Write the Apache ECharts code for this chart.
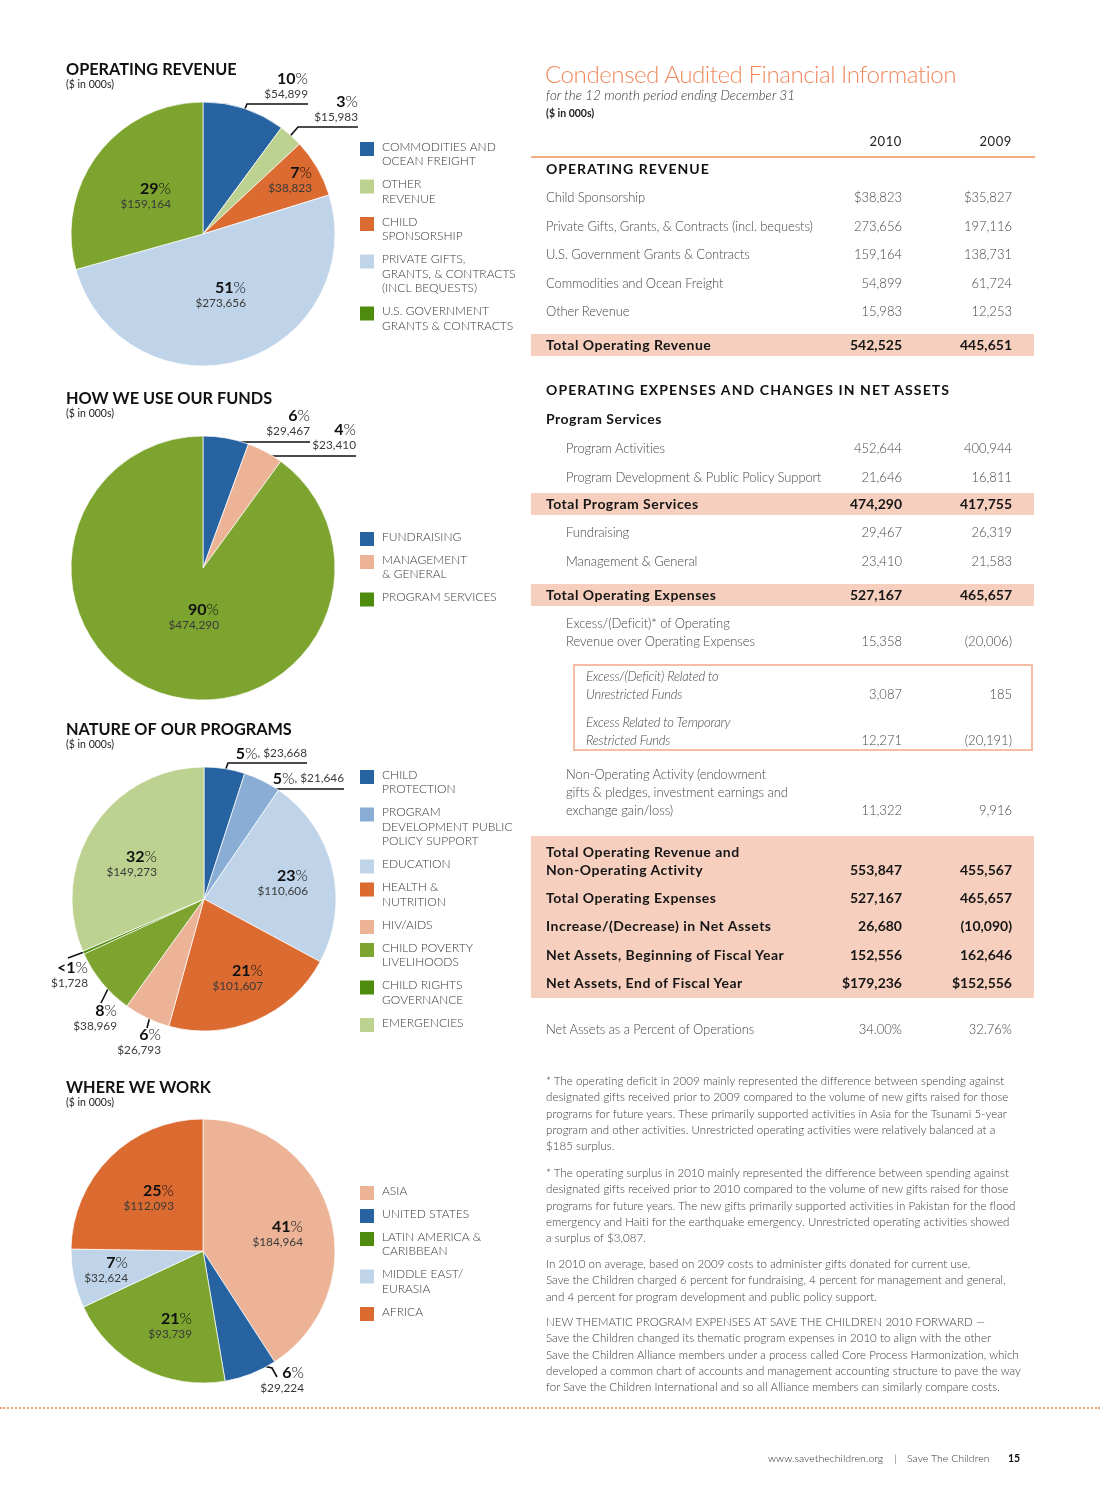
<!DOCTYPE html>
<html>
<head>
<meta charset="utf-8">
<script src="https://cdn.jsdelivr.net/npm/echarts@6/dist/echarts.min.js"></script>
<style>
  html,body{margin:0;padding:0;background:#fff;}
  body{width:1100px;height:1504px;position:relative;overflow:hidden;font-family:Lato,"Open Sans",sans-serif;}
  #chart{position:absolute;left:0;top:0;width:1100px;height:1504px;}
  #fin{position:absolute;left:0;top:0;width:1100px;height:1504px;pointer-events:none;}
  #fin div{position:absolute;white-space:nowrap;}
  .lt{font-weight:300;font-size:13px;color:#474747;letter-spacing:-0.1px;}
  .bd{font-weight:700;font-size:14px;color:#161616;letter-spacing:0.5px;}
  .hd{font-weight:700;font-size:14px;color:#111;letter-spacing:1px;}
  .it{font-style:italic;font-weight:300;font-size:13px;color:#474747;letter-spacing:-0.2px;}
  .fn{font-weight:300;font-size:11.5px;color:#3a3a3a;letter-spacing:0.05px;}
</style>
</head>
<body>
<div id="chart"></div>
<div id="fin"></div>
<script>
// ---------------- DATA ----------------
const revenueCategories = ['COMMODITIES AND\nOCEAN FREIGHT', 'OTHER\nREVENUE', 'CHILD\nSPONSORSHIP', 'PRIVATE GIFTS,\nGRANTS, & CONTRACTS\n(INCL BEQUESTS)', 'U.S. GOVERNMENT\nGRANTS & CONTRACTS'];
const revenueValues = [54899, 15983, 38823, 273656, 159164];

const fundsCategories = ['FUNDRAISING', 'MANAGEMENT\n& GENERAL', 'PROGRAM SERVICES'];
const fundsValues = [29467, 23410, 474290];

const programCategories = ['CHILD\nPROTECTION', 'PROGRAM\nDEVELOPMENT PUBLIC\nPOLICY SUPPORT', 'EDUCATION', 'HEALTH &\nNUTRITION', 'HIV/AIDS', 'CHILD POVERTY\nLIVELIHOODS', 'CHILD RIGHTS\nGOVERNANCE', 'EMERGENCIES'];
const programValues = [23668, 21646, 110606, 101607, 26793, 38969, 1728, 149273];

const regionCategories = ['ASIA', 'UNITED STATES', 'LATIN AMERICA &\nCARIBBEAN', 'MIDDLE EAST/\nEURASIA', 'AFRICA'];
const regionValues = [184964, 29224, 93739, 32624, 112093];

const pieTitles = ['OPERATING REVENUE', 'HOW WE USE OUR FUNDS', 'NATURE OF OUR PROGRAMS', 'WHERE WE WORK'];
const unitLabel = '($ in 000s)';

const yearLabels = ['2010', '2009'];
const revenueRows = [
  ['Child Sponsorship', '$38,823', '$35,827'],
  ['Private Gifts, Grants, & Contracts (incl. bequests)', '273,656', '197,116'],
  ['U.S. Government Grants & Contracts', '159,164', '138,731'],
  ['Commodities and Ocean Freight', '54,899', '61,724'],
  ['Other Revenue', '15,983', '12,253']
];
const totalRevenueRow = ['Total Operating Revenue', '542,525', '445,651'];
const programRows = [
  ['Program Activities', '452,644', '400,944'],
  ['Program Development & Public Policy Support', '21,646', '16,811']
];
const totalProgramRow = ['Total Program Services', '474,290', '417,755'];
const supportRows = [
  ['Fundraising', '29,467', '26,319'],
  ['Management & General', '23,410', '21,583']
];
const totalExpensesRow = ['Total Operating Expenses', '527,167', '465,657'];
const excessRow = ['Excess/(Deficit)* of Operating\nRevenue over Operating Expenses', '15,358', '(20,006)'];
const restrictionRows = [
  ['Excess/(Deficit) Related to\nUnrestricted Funds', '3,087', '185'],
  ['Excess Related to Temporary\nRestricted Funds', '12,271', '(20,191)']
];
const nonOperatingRow = ['Non-Operating Activity (endowment\ngifts & pledges, investment earnings and\nexchange gain/loss)', '11,322', '9,916'];
const summaryRows = [
  ['Total Operating Revenue and\nNon-Operating Activity', '553,847', '455,567'],
  ['Total Operating Expenses', '527,167', '465,657'],
  ['Increase/(Decrease) in Net Assets', '26,680', '(10,090)'],
  ['Net Assets, Beginning of Fiscal Year', '152,556', '162,646'],
  ['Net Assets, End of Fiscal Year', '$179,236', '$152,556']
];
const ratioRow = ['Net Assets as a Percent of Operations', '34.00%', '32.76%'];

const footnotes = [
  ['* The operating deficit in 2009 mainly represented the difference between spending against',
   'designated gifts received prior to 2009 compared to the volume of new gifts raised for those',
   'programs for future years. These primarily supported activities in Asia for the Tsunami 5-year',
   'program and other activities. Unrestricted operating activities were relatively balanced at a',
   '$185 surplus.'],
  ['* The operating surplus in 2010 mainly represented the difference between spending against',
   'designated gifts received prior to 2010 compared to the volume of new gifts raised for those',
   'programs for future years. The new gifts primarily supported activities in Pakistan for the flood',
   'emergency and Haiti for the earthquake emergency. Unrestricted operating activities showed',
   'a surplus of $3,087.'],
  ['In 2010 on average, based on 2009 costs to administer gifts donated for current use,',
   'Save the Children charged 6 percent for fundraising, 4 percent for management and general,',
   'and 4 percent for program development and public policy support.'],
  ['NEW THEMATIC PROGRAM EXPENSES AT SAVE THE CHILDREN 2010 FORWARD \u2014',
   'Save the Children changed its thematic program expenses in 2010 to align with the other',
   'Save the Children Alliance members under a process called Core Process Harmonization, which',
   'developed a common chart of accounts and management accounting structure to pave the way',
   'for Save the Children International and so all Alliance members can similarly compare costs.']
];

// ---------------- STYLE ----------------
const FONT = 'Lato, "Open Sans", sans-serif';
const C = {
  blue: '#2763a1', lgreen: '#bdd290', orange: '#dc6b31', lblue: '#bfd4e9',
  green: '#7ca42f', peach: '#ecb396', mblue: '#89add4', dgreen: '#4f8b0c'
};
const R = 132;

const pies = [
  {
    title: pieTitles[0], titleY: 62, cats: revenueCategories, vals: revenueValues, center: [203, 234],
    colors: [C.blue, C.lgreen, C.orange, C.lblue, C.green],
    legendColors: [C.blue, C.lgreen, C.orange, C.lblue, C.dgreen], legendY: 147,
    labels: [
      {type: 'out', f: 0.93, x: 105, y: -132, va: 'bottom', pts: [[44, -130], [105, -130]]},
      {type: 'out', f: 0.93, x: 155, y: -109, va: 'bottom', pts: [[95, -107], [155, -107]]},
      {type: 'in', x: 109, y: -54, va: 'middle'},
      {type: 'in', x: 43, y: 61, va: 'middle'},
      {type: 'in', x: -32, y: -38, va: 'middle'}
    ]
  },
  {
    title: pieTitles[1], titleY: 391, cats: fundsCategories, vals: fundsValues, center: [203, 568],
    colors: [C.blue, C.peach, C.green],
    legendColors: [C.blue, C.peach, C.dgreen], legendY: 537,
    labels: [
      {type: 'out', f: 0.92, x: 107, y: -129, va: 'bottom', pts: [[27, -126], [107, -126]]},
      {type: 'out', f: 0.92, x: 153, y: -115, va: 'bottom', pts: [[65, -112], [153, -112]]},
      {type: 'in', x: 16, y: 49, va: 'middle'}
    ]
  },
  {
    title: pieTitles[2], titleY: 722, cats: programCategories, vals: programValues, center: [204, 899],
    colors: [C.blue, C.mblue, C.lblue, C.orange, C.peach, C.green, C.dgreen, C.lgreen],
    legendColors: [C.blue, C.mblue, C.lblue, C.orange, C.peach, C.green, C.dgreen, C.lgreen], legendY: 775,
    labels: [
      {type: 'out', f: 0.95, x: 103, y: -137, va: 'bottom', inline: true, pts: [[24, -136], [103, -136]]},
      {type: 'out', f: 0.9, x: 140, y: -112, va: 'bottom', inline: true, pts: [[66, -110], [140, -110]]},
      {type: 'in', x: 104, y: -16, va: 'middle'},
      {type: 'in', x: 59, y: 79, va: 'middle'},
      {type: 'out', f: 0.9, x: -43, y: 127, va: 'top', pts: [[-57, 129], [-57, 129]]},
      {type: 'out', f: 0.85, x: -87, y: 103, va: 'top', pts: [[-103, 104], [-103, 104]]},
      {type: 'out', f: 0.95, x: -116, y: 60, va: 'top', pts: [[-136, 59], [-136, 59]]},
      {type: 'in', x: -47, y: -35, va: 'middle'}
    ]
  },
  {
    title: pieTitles[3], titleY: 1080, cats: regionCategories, vals: regionValues, center: [203, 1251],
    colors: [C.peach, C.blue, C.green, C.lblue, C.orange],
    legendColors: [C.peach, C.blue, C.dgreen, C.lblue, C.orange], legendY: 1191,
    labels: [
      {type: 'in', x: 100, y: -17, va: 'middle'},
      {type: 'out', f: 0.9, x: 101, y: 113, va: 'top', pts: [[69, 117], [74, 126]]},
      {type: 'in', x: -11, y: 75, va: 'middle'},
      {type: 'in', x: -75, y: 19, va: 'middle'},
      {type: 'in', x: -29, y: -53, va: 'middle'}
    ]
  }
];

const RICH = {
  p: {fontFamily: FONT, fontSize: 16, fontWeight: 'bold', color: '#111', align: 'right', lineHeight: 17},
  s: {fontFamily: FONT, fontSize: 16, fontWeight: 300, color: '#111', align: 'right', lineHeight: 17},
  v: {fontFamily: FONT, fontSize: 11.8, fontWeight: 'normal', color: '#3a3a3a', align: 'right', lineHeight: 15}
};

function fmtMoney(v) { return '$' + v.toLocaleString('en-US'); }

function pieSeries(pie) {
  const total = pie.vals.reduce((a, b) => a + b, 0);
  const [cx, cy] = pie.center;
  return {
    type: 'pie', name: pie.title, center: pie.center, radius: R,
    startAngle: 90, clockwise: true, avoidLabelOverlap: false, silent: true,
    percentPrecision: 0,
    itemStyle: {borderColor: '#ffffff', borderWidth: 0.7},
    label: {
      show: true, position: 'outside', rich: RICH,
      formatter: function (p) {
        const spec = pie.labels[p.dataIndex];
        const pct = p.percent === 0 ? '<1' : String(p.percent);
        return '{p|' + pct + '}{s|%}' + (spec.inline ? '{v|, ' + fmtMoney(p.value) + '}' : '\n{v|' + fmtMoney(p.value) + '}');
      }
    },
    labelLine: {show: true, lineStyle: {color: '#111', width: 1.6}},
    labelLayout: function (p) {
      const s = pie.labels[p.dataIndex];
      const res = {x: cx + s.x, y: cy + s.y, align: 'right', verticalAlign: s.va};
      if (s.type === 'out') {
        let start;
        if (p.labelLinePoints && p.labelLinePoints[0]) {
          const q = p.labelLinePoints[0];
          start = [cx + (q[0] - cx) * s.f, cy + (q[1] - cy) * s.f];
        } else {
          let cum = 0;
          for (let i = 0; i < p.dataIndex; i++) cum += pie.vals[i];
          const a = (90 - 360 * (cum + pie.vals[p.dataIndex] / 2) / total) * Math.PI / 180;
          start = [cx + R * s.f * Math.cos(a), cy - R * s.f * Math.sin(a)];
        }
        res.labelLinePoints = [start].concat(s.pts.map(q => [cx + q[0], cy + q[1]]));
      }
      return res;
    },
    data: pie.cats.map((c, i) => ({
      name: c, value: pie.vals[i],
      itemStyle: {color: pie.colors[i]},
      labelLine: {show: pie.labels[i].type === 'out'}
    }))
  };
}

function legendElements(pie) {
  const els = [];
  const x = 360;
  let y = pie.legendY;
  pie.cats.forEach((name, i) => {
    const lines = name.split('\n').length;
    els.push({type: 'rect', silent: true, shape: {x: x, y: y - 5, width: 14, height: 14},
      style: {fill: pie.legendColors[i]}});
    els.push({type: 'text', silent: true, x: x + 22, y: y - 7.25,
      style: {text: name, fontSize: 12, fontFamily: FONT, fontWeight: 300, fill: '#3a3a3a',
        lineHeight: 14.5, verticalAlign: 'top', align: 'left'}});
    y += (lines - 1) * 14.5 + 23;
  });
  return els;
}

const chart = echarts.init(document.getElementById('chart'), null, {renderer: 'canvas'});
chart.setOption({
  animation: false,
  backgroundColor: '#ffffff',
  title: pies.map(p => ({
    text: p.title, subtext: unitLabel, left: 66, top: p.titleY, itemGap: 1, padding: 0,
    textStyle: {fontFamily: FONT, fontSize: 16.3, fontWeight: 'bold', color: '#111'},
    subtextStyle: {fontFamily: FONT, fontSize: 10.5, fontWeight: 'normal', color: '#222'}
  })),
  graphic: {elements: [].concat(...pies.map(legendElements))},
  series: pies.map(pieSeries)
});

// ---------------- FINANCIAL TABLE (HTML text) ----------------
const fin = document.getElementById('fin');
const COL1 = 902, COL2 = 1012;
function add(text, x, y, cls, opt) {
  opt = opt || {};
  const d = document.createElement('div');
  d.className = cls;
  d.textContent = text;
  const lh = 18;
  d.style.top = (y - lh / 2) + 'px';
  d.style.lineHeight = lh + 'px';
  if (opt.right) { d.style.left = (x - 300) + 'px'; d.style.width = '300px'; d.style.textAlign = 'right'; }
  else d.style.left = x + 'px';
  if (opt.css) d.style.cssText += opt.css;
  fin.appendChild(d);
  return d;
}
function box(x, y, w, h, css) {
  const d = document.createElement('div');
  d.style.cssText = 'left:' + x + 'px;top:' + y + 'px;width:' + w + 'px;height:' + h + 'px;' + css;
  fin.appendChild(d);
}
function row(r, x, y, cls, lh, valCls) {
  const lines = r[0].split('\n');
  lines.forEach((l, i) => add(l, x, y + i * lh, cls));
  const vy = y + (lines.length - 1) * lh;
  add(r[1], COL1, vy, valCls || cls, {right: true, css: 'letter-spacing:0;'});
  add(r[2], COL2, vy, valCls || cls, {right: true, css: 'letter-spacing:0;'});
}

const BAND = 'background:#f6cfbe;';
box(531, 334, 503, 22, BAND);
box(531, 493, 503, 22, BAND);
box(531, 584, 503, 22, BAND);
box(531, 836, 503, 162, BAND);
box(573, 664, 458, 87, 'border:2px solid #f4bea6;box-sizing:border-box;width:460px;');
box(531, 156, 504, 2, 'background:#f3ab85;');

add('Condensed Audited Financial Information', 545, 74, '', {css: 'font-weight:300;font-size:24.2px;color:#ef8a5e;letter-spacing:-0.5px;line-height:28px;top:60px;'});
add('for the 12 month period ending December 31', 546, 95, 'it', {css: 'font-size:13.3px;color:#333;letter-spacing:0.05px;'});
add(unitLabel, 546, 113, '', {css: 'font-weight:700;font-size:10.5px;color:#222;'});
add(yearLabels[0], COL1, 141, '', {right: true, css: 'font-weight:400;font-size:13px;color:#222;letter-spacing:0.6px;'});
add(yearLabels[1], COL2, 141, '', {right: true, css: 'font-weight:400;font-size:13px;color:#222;letter-spacing:0.6px;'});

add('OPERATING REVENUE', 546, 169, 'hd');
revenueRows.forEach((r, i) => row(r, 546, 197 + i * 28.5, 'lt', 18));
row(totalRevenueRow, 546, 345, 'bd', 18);

add('OPERATING EXPENSES AND CHANGES IN NET ASSETS', 546, 390, 'hd', {css: 'letter-spacing:1.1px;'});
add('Program Services', 546, 419, 'bd');
programRows.forEach((r, i) => row(r, 566, 448 + i * 28.5, 'lt', 18));
row(totalProgramRow, 546, 504, 'bd', 18);
supportRows.forEach((r, i) => row(r, 566, 532 + i * 28.5, 'lt', 18));
row(totalExpensesRow, 546, 595, 'bd', 18);
row(excessRow, 566, 623, 'lt', 18);
row(restrictionRows[0], 586, 676, 'it', 17.5, 'lt');
row(restrictionRows[1], 586, 722, 'it', 17.5, 'lt');
row(nonOperatingRow, 566, 774, 'lt', 18);
row(summaryRows[0], 546, 852, 'bd', 18);
summaryRows.slice(1).forEach((r, i) => row(r, 546, 898 + i * 28.4, 'bd', 18));
row(ratioRow, 546, 1029, 'lt', 18);

const fnStarts = [1081, 1173, 1264, 1322];
footnotes.forEach((p, pi) => p.forEach((l, li) => add(l, 546, fnStarts[pi] + li * 16.3, 'fn')));

// dotted separator and footer
box(0, 1407, 1100, 0, 'border-top:2.5px dotted #f2a272;');
add('www.savethechildren.org', 768, 1458, '', {css: 'font-weight:300;font-size:10.6px;color:#333;'});
add('|', 894, 1458, '', {css: 'font-weight:300;font-size:10.5px;color:#333;'});
add('Save The Children', 907, 1458, '', {css: 'font-weight:300;font-size:10.6px;color:#333;'});
add('15', 1008, 1458, '', {css: 'font-weight:700;font-size:10.5px;color:#111;'});
</script>
</body>
</html>
